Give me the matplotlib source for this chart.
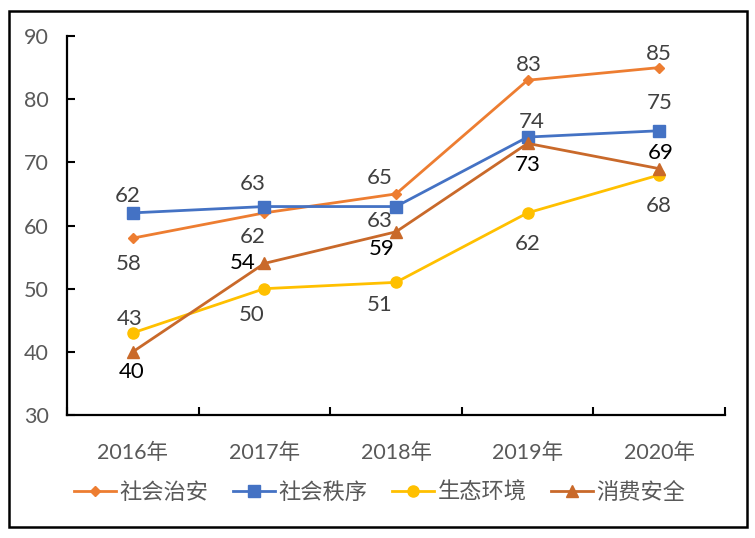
import matplotlib
matplotlib.use("Agg")
import matplotlib.pyplot as plt
from matplotlib.patches import Rectangle

plt.rcParams['font.family'] = ['Lato', 'Noto Sans CJK SC', 'DejaVu Sans']

years = ["2016年", "2017年", "2018年", "2019年", "2020年"]
series_names = ["社会治安", "社会秩序", "生态环境", "消费安全"]
shehui_zhian = [58, 62, 65, 83, 85]
shehui_zhixu = [62, 63, 63, 74, 75]
shengtai_huanjing = [43, 50, 51, 62, 68]
xiaofei_anquan = [40, 54, 59, 73, 69]
y_ticks = [30, 40, 50, 60, 70, 80, 90]

values = [shehui_zhian, shehui_zhixu, shengtai_huanjing, xiaofei_anquan]
colors = ["#ED7D31", "#4472C4", "#FFC000", "#C9692A"]
markers = ["D", "s", "o", "^"]
msizes = [5.5, 8, 8, 9]
label_colors = ["#404040", "#404040", "#404040", "#000000"]
# label offsets in pixels (dx, dy with dy positive = down)
offsets_px = [
    [(-4, 26), (-12, 24), (-16, -16), (1, -15), (0, -14)],
    [(-5, -17), (-12, -23), (-16, 14), (4, -15), (0, -28)],
    [(-3, -14), (-13, 26), (-16, 23), (0, 31), (0, 31)],
    [(-1, 20), (-22, 0), (-14, 17), (0, 22), (1, -16)],
]

fig = plt.figure(figsize=(7.55, 5.38), dpi=100)
ax = fig.add_axes([67/755, 1-415/538, (725-67)/755, (415-36)/538])

x = list(range(len(years)))
handles = []
for i, vals in enumerate(values):
    h, = ax.plot(x, vals, color=colors[i], marker=markers[i], markersize=msizes[i],
                 linewidth=2.0, label=series_names[i], clip_on=False)
    handles.append(h)
    for j, v in enumerate(vals):
        dx, dy = offsets_px[i][j]
        ax.annotate(str(v), (x[j], v), xytext=(dx*0.72, -dy*0.72),
                    textcoords='offset points', ha='center', va='center',
                    fontsize=16, color=label_colors[i])

ax.set_xlim(-0.5, len(years)-0.5)
ax.set_ylim(30, 90)
ax.set_yticks(y_ticks)
ax.set_yticklabels([str(t) for t in y_ticks])
ax.set_xticks(x)
ax.set_xticklabels(years)
ax.set_xticks([k+0.5 for k in range(-1, len(years))], minor=True)
ax.tick_params(axis='x', which='major', length=0, pad=20, labelsize=15.5, labelcolor='#595959')
ax.tick_params(axis='x', which='minor', direction='in', length=6, width=1.5, color='black')
ax.tick_params(axis='y', direction='in', length=6, width=1.5, pad=13, labelsize=15.5, labelcolor='#595959')
for s in ['top', 'right']:
    ax.spines[s].set_visible(False)
for s in ['left', 'bottom']:
    ax.spines[s].set_linewidth(1.6)
    ax.spines[s].set_color('black')

fig.legend(handles=handles, loc='center', bbox_to_anchor=(0.503, 1-492/538), ncol=4,
           frameon=False, fontsize=16, handlelength=1.9, handletextpad=0.15,
           columnspacing=1.1, labelcolor='#595959')

fig.patches.append(Rectangle((9/755, 1-527/538), (747-9)/755, (527-11)/538,
                             transform=fig.transFigure, fill=False,
                             edgecolor='black', linewidth=1.8))

fig.savefig("out.png", dpi=100)
